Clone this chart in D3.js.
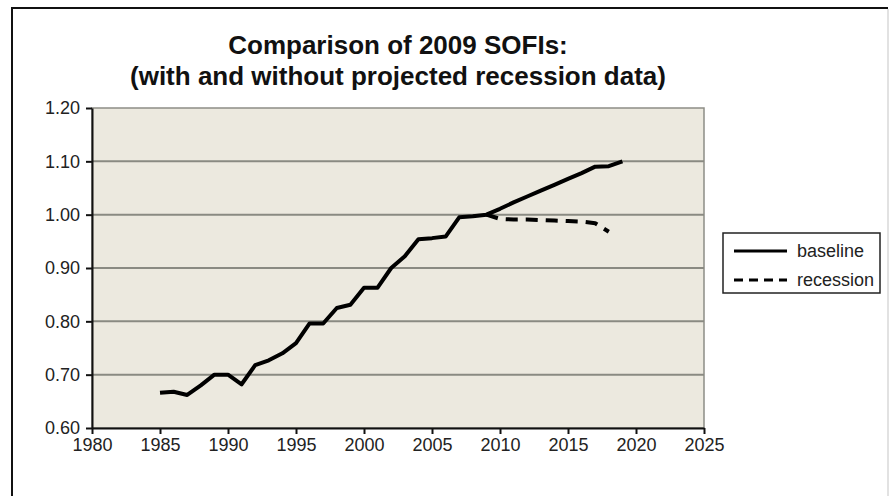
<!DOCTYPE html>
<html>
<head>
<meta charset="utf-8">
<script src="https://cdn.jsdelivr.net/npm/d3@7"></script>
<style>
  html, body { margin: 0; padding: 0; background: #fff; }
  svg { display: block; font-family: "Liberation Sans", Arial, sans-serif; }
</style>
</head>
<body>
<svg id="chart" width="889" height="496"></svg>
<script>
// SOFI index by year
const years = [1985, 1986, 1987, 1988, 1989, 1990, 1991, 1992, 1993, 1994,
  1995, 1996, 1997, 1998, 1999, 2000, 2001, 2002, 2003, 2004,
  2005, 2006, 2007, 2008, 2009, 2010, 2011, 2012, 2013, 2014,
  2015, 2016, 2017, 2018, 2019];
const baseline = [0.666, 0.668, 0.662, 0.680, 0.700, 0.700, 0.682, 0.718, 0.727, 0.740,
  0.759, 0.796, 0.796, 0.825, 0.831, 0.863, 0.863, 0.900, 0.922, 0.954,
  0.956, 0.959, 0.995, 0.997, 1.000, 1.011, 1.023, 1.034, 1.045, 1.056,
  1.067, 1.078, 1.090, 1.091, 1.100];

const recessionYears = [2009, 2010, 2011, 2012, 2013, 2014, 2015, 2016, 2017, 2018];
const recession = [1.000, 0.992, 0.991, 0.991, 0.990, 0.989, 0.988, 0.987, 0.984, 0.968];

const xTicks = [1980, 1985, 1990, 1995, 2000, 2005, 2010, 2015, 2020, 2025];
const yTicks = [0.60, 0.70, 0.80, 0.90, 1.00, 1.10, 1.20];

const titleLines = ["Comparison of 2009 SOFIs:", "(with and without projected recession data)"];
const legendLabels = ["baseline", "recession"];

const svg = d3.select("#chart");
const plot = { left: 92, top: 108, right: 704, bottom: 428 };
const FONT = "'Liberation Sans', Arial, sans-serif";

const x = d3.scaleLinear().domain([1980, 2025]).range([plot.left, plot.right]);
const y = d3.scaleLinear().domain([0.60, 1.20]).range([plot.bottom, plot.top]);

// outer frame: dark left/top edges, faint right edge
svg.append("path")
  .attr("d", "M12,520 L12,8 L888,8")
  .attr("fill", "none").attr("stroke", "#111").attr("stroke-width", 2);
svg.append("line")
  .attr("x1", 888).attr("x2", 888).attr("y1", 9).attr("y2", 496)
  .attr("stroke", "#d8d8d8").attr("stroke-width", 1.5);

// plot background
svg.append("rect")
  .attr("x", plot.left).attr("y", plot.top)
  .attr("width", plot.right - plot.left).attr("height", plot.bottom - plot.top)
  .attr("fill", "#ECE9DF").attr("stroke", "#8d8d86").attr("stroke-width", 1.5);

// gridlines
svg.append("g").selectAll("line")
  .data(yTicks.filter(d => d > 0.6 && d < 1.2))
  .join("line")
  .attr("x1", plot.left).attr("x2", plot.right)
  .attr("y1", d => y(d)).attr("y2", d => y(d))
  .attr("stroke", "#8a8a82").attr("stroke-width", 2);

// axes
const yAxis = d3.axisLeft(y).tickValues(yTicks).tickFormat(d3.format(".2f"))
  .tickSizeInner(6).tickSizeOuter(0).tickPadding(6);
const xAxis = d3.axisBottom(x).tickValues(xTicks).tickFormat(d3.format("d"))
  .tickSizeInner(6).tickSizeOuter(0).tickPadding(4);

const gy = svg.append("g").attr("transform", `translate(${plot.left},0)`).call(yAxis);
const gx = svg.append("g").attr("transform", `translate(0,${plot.bottom})`).call(xAxis);
[gx, gy].forEach(g => {
  g.attr("font-size", 18).attr("font-family", FONT);
  g.select(".domain").attr("stroke", "#111").attr("stroke-width", 2);
  g.selectAll(".tick line").attr("stroke", "#111").attr("stroke-width", 2);
  g.selectAll("text").attr("fill", "#222");
});

// lines
const line = d3.line().x(d => x(d[0])).y(d => y(d[1]));

svg.append("path")
  .datum(years.map((yr, i) => [yr, baseline[i]]))
  .attr("d", line)
  .attr("fill", "none").attr("stroke", "#000").attr("stroke-width", 4)
  .attr("stroke-linejoin", "round").attr("stroke-linecap", "butt");

svg.append("path")
  .datum(recessionYears.map((yr, i) => [yr, recession[i]]))
  .attr("d", line)
  .attr("fill", "none").attr("stroke", "#000").attr("stroke-width", 4)
  .attr("stroke-dasharray", "12,8")
  .attr("stroke-linejoin", "round");

// title
svg.append("text")
  .attr("x", (plot.left + plot.right) / 2).attr("y", 54)
  .attr("text-anchor", "middle").attr("font-weight", "bold").attr("font-size", 26)
  .attr("font-family", FONT).attr("fill", "#111")
  .selectAll("tspan").data(titleLines).join("tspan")
  .attr("x", (plot.left + plot.right) / 2)
  .attr("dy", (d, i) => i === 0 ? 0 : 31)
  .text(d => d);

// legend
const lg = svg.append("g").attr("transform", "translate(723,233)");
lg.append("rect").attr("width", 157).attr("height", 60)
  .attr("fill", "#fff").attr("stroke", "#222").attr("stroke-width", 1.5);
const items = lg.selectAll("g.item").data(legendLabels).join("g")
  .attr("transform", (d, i) => `translate(0,${18 + i * 29})`);
items.append("line")
  .attr("x1", 11).attr("x2", 64).attr("y1", 0).attr("y2", 0)
  .attr("stroke", "#000").attr("stroke-width", 3)
  .attr("stroke-dasharray", (d, i) => i === 1 ? "9,6" : null);
items.append("text")
  .attr("x", 74).attr("y", 0).attr("dy", "0.35em")
  .attr("font-size", 18).attr("font-family", FONT).attr("fill", "#222")
  .text(d => d);
</script>
</body>
</html>
